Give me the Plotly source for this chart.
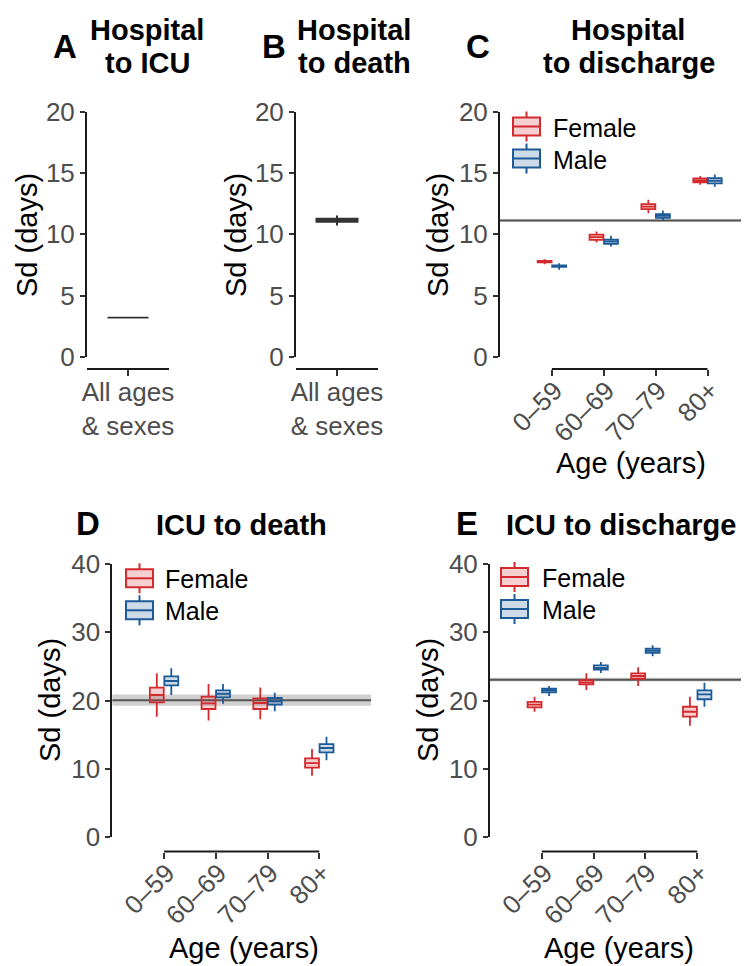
import plotly.graph_objects as go

# target picture size and page offset (default body margin of the html page)
W, H = 749, 966
OFF = 8
FW, FH = W - OFF, H - OFF

# ---------------- data ----------------
ages = ["0–59", "60–69", "70–79", "80+"]
sexes = ["Female", "Male"]
overall_label = ["All ages<br>& sexes"]

# each row: [lower whisker, q1, median, q3, upper whisker]
A_all = [[3.19, 3.19, 3.19, 3.19, 3.19]]
B_all = [[10.72, 11.02, 11.15, 11.28, 11.54]]

C_female = [[7.56, 7.72, 7.78, 7.84, 7.97],
            [9.33, 9.55, 9.77, 9.98, 10.23],
            [11.73, 12.06, 12.27, 12.47, 12.82],
            [14.05, 14.24, 14.40, 14.57, 14.76]]
C_male = [[7.10, 7.34, 7.40, 7.46, 7.64],
          [9.00, 9.22, 9.41, 9.57, 9.88],
          [11.13, 11.35, 11.51, 11.65, 11.95],
          [13.90, 14.16, 14.38, 14.60, 14.90]]

D_female = [[17.64, 19.75, 20.82, 21.90, 24.00],
            [17.10, 18.77, 19.60, 20.57, 22.43],
            [17.26, 18.77, 19.65, 20.33, 21.90],
            [9.00, 10.18, 10.86, 11.55, 12.90]]
D_male = [[20.82, 22.24, 22.87, 23.56, 24.73],
          [19.55, 20.48, 21.00, 21.50, 22.43],
          [18.43, 19.40, 19.90, 20.38, 21.16],
          [11.25, 12.43, 13.06, 13.64, 14.70]]

E_female = [[18.37, 19.00, 19.40, 19.80, 20.57],
            [21.55, 22.37, 22.68, 23.00, 23.99],
            [22.13, 23.20, 23.60, 23.99, 24.87],
            [16.30, 17.64, 18.37, 19.10, 20.57]]
E_male = [[20.67, 21.20, 21.50, 21.74, 22.13],
          [24.04, 24.53, 24.80, 25.16, 25.65],
          [26.50, 27.00, 27.30, 27.60, 28.10],
          [19.10, 20.20, 20.90, 21.50, 22.60]]

# overall reference: [low, estimate, high]
C_ref = [11.03, 11.13, 11.23]
D_ref = [19.25, 20.04, 20.90]
E_ref = [22.80, 23.06, 23.35]

y_ticks_top = [0, 5, 10, 15, 20]
y_ticks_bottom = [0, 10, 20, 30, 40]

# ---------------- style ----------------
FONT = "Liberation Sans, Arial, sans-serif"
RED = "#D42A2E"
RED_FILL = "rgba(212,42,46,0.22)"
BLUE = "#1D5A98"
BLUE_FILL = "rgba(29,90,152,0.22)"
GREY = "#333333"
GREY_FILL = "rgba(51,51,51,0.6)"
AXIS = "#1a1a1a"
TICKLAB = "#4D4D4D"
SEX_COLORS = {"Female": (RED, RED_FILL), "Male": (BLUE, BLUE_FILL)}


def px_x(p):
    return (p - OFF) / FW


def px_y(p):
    return 1 - (p - OFF) / FH


def col(rows, k):
    return [r[k] for r in rows]


fig = go.Figure()


def add_box(rows, xcats, name, line, fill, ax, width=None, lw=1.8):
    fig.add_trace(go.Box(
        x=xcats, lowerfence=col(rows, 0), q1=col(rows, 1), median=col(rows, 2),
        q3=col(rows, 3), upperfence=col(rows, 4),
        name=name, line=dict(color=line, width=lw), fillcolor=fill,
        whiskerwidth=0, boxpoints=False, hoverinfo="skip",
        xaxis="x" + ax, yaxis="y" + ax, width=width,
        offsetgroup=name, alignmentgroup="g" + ax, showlegend=False,
    ))


add_box(A_all, overall_label, "All", GREY, GREY_FILL, "", width=0.6, lw=1.6)
add_box(B_all, overall_label, "All", GREY, GREY_FILL, "2", width=0.6, lw=2)
for ax, fem, mal in [("3", C_female, C_male), ("4", D_female, D_male), ("5", E_female, E_male)]:
    add_box(fem, ages, "Female", RED, RED_FILL, ax)
    add_box(mal, ages, "Male", BLUE, BLUE_FILL, ax)

# ---------------- axes ----------------
top_y = [px_y(356.7), px_y(112)]
bot_y = [px_y(837.2), px_y(564)]
top_xpos = px_y(369)
bot_xpos = px_y(851.5)

common_x = dict(type="category", anchor="free", showline=False, showgrid=False,
                zeroline=False, ticks="outside", ticklen=6, tickwidth=1.5, automargin=False,
                tickcolor=GREY, tickfont=dict(size=26, color=TICKLAB, family=FONT))
rot_x = dict(common_x, tickangle=-45, ticklabelshift=3, ticklabelstandoff=-11)
flat_x = dict(common_x, ticklabelstandoff=-6)
common_y = dict(showline=True, linecolor=AXIS, linewidth=2, showgrid=False, automargin=False,
                zeroline=False, ticks="outside", ticklen=5, tickwidth=1.5,
                tickcolor=GREY, tickfont=dict(size=26, color=TICKLAB, family=FONT),
                ticklabelstandoff=0)

layout_axes = {
    "xaxis": dict(flat_x, domain=[px_x(87), px_x(169)], position=top_xpos, range=[-0.6, 0.6]),
    "xaxis2": dict(flat_x, domain=[px_x(296), px_x(378)], position=top_xpos, range=[-0.6, 0.6]),
    "xaxis3": dict(rot_x, domain=[px_x(500), 1.0], position=top_xpos, range=[-1.0, 3.8]),
    "xaxis4": dict(rot_x, domain=[px_x(112.3), px_x(371)], position=bot_xpos, range=[-1.0, 4.0]),
    "xaxis5": dict(rot_x, domain=[px_x(490), 1.0], position=bot_xpos, range=[-1.0, 4.0]),
    "yaxis": dict(common_y, domain=top_y, anchor="x", range=[0, 20], tickvals=y_ticks_top),
    "yaxis2": dict(common_y, domain=top_y, anchor="x2", range=[0, 20], tickvals=y_ticks_top),
    "yaxis3": dict(common_y, domain=top_y, anchor="x3", range=[0, 20], tickvals=y_ticks_top),
    "yaxis4": dict(common_y, domain=bot_y, anchor="x4", range=[0, 40], tickvals=y_ticks_bottom),
    "yaxis5": dict(common_y, domain=bot_y, anchor="x5", range=[0, 40], tickvals=y_ticks_bottom),
}

shapes = []
# capped x-axis lines
for ax, pos in [("x", top_xpos), ("x2", top_xpos)]:
    shapes.append(dict(type="line", xref=ax + " domain", yref="paper", x0=0, x1=1,
                       y0=pos, y1=pos, line=dict(color=AXIS, width=2)))
for ax, pos in [("x3", top_xpos), ("x4", bot_xpos), ("x5", bot_xpos)]:
    shapes.append(dict(type="line", xref=ax, yref="paper", x0=0, x1=len(ages) - 1,
                       y0=pos, y1=pos, line=dict(color=AXIS, width=2)))
# overall reference lines with band
for ax, ref in [("3", C_ref), ("4", D_ref), ("5", E_ref)]:
    shapes.append(dict(type="rect", xref="x" + ax + " domain", yref="y" + ax, x0=0, x1=1,
                       y0=ref[0], y1=ref[2], fillcolor="rgba(120,120,120,0.35)",
                       line=dict(width=0), layer="below"))
    shapes.append(dict(type="line", xref="x" + ax + " domain", yref="y" + ax, x0=0, x1=1,
                       y0=ref[1], y1=ref[1], line=dict(color="#555555", width=2),
                       layer="below"))

annotations = []


def ann(text, x, y, size, bold=False, color="black", angle=0, xanchor="center"):
    annotations.append(dict(text=("<b>%s</b>" % text) if bold else text,
                            x=px_x(x), y=px_y(y), xref="paper", yref="paper",
                            showarrow=False, xanchor=xanchor, yanchor="middle",
                            textangle=angle,
                            font=dict(size=size, color=color, family=FONT)))


# manual legends (box glyph + label) for panels C, D, E
def legend_block(x_icon, x_text, y_rows):
    for sex, yc in zip(sexes, y_rows):
        line, fill = SEX_COLORS[sex]
        xm = x_icon + 13.5
        shapes.append(dict(type="line", xref="paper", yref="paper",
                           x0=px_x(xm), x1=px_x(xm), y0=px_y(yc - 15), y1=px_y(yc + 15),
                           line=dict(color=line, width=2)))
        shapes.append(dict(type="rect", xref="paper", yref="paper",
                           x0=px_x(x_icon), x1=px_x(x_icon + 27),
                           y0=px_y(yc - 9), y1=px_y(yc + 9),
                           fillcolor="white", line=dict(width=0)))
        shapes.append(dict(type="rect", xref="paper", yref="paper",
                           x0=px_x(x_icon), x1=px_x(x_icon + 27),
                           y0=px_y(yc - 9), y1=px_y(yc + 9),
                           fillcolor=fill, line=dict(color=line, width=2)))
        shapes.append(dict(type="line", xref="paper", yref="paper",
                           x0=px_x(x_icon), x1=px_x(x_icon + 27), y0=px_y(yc), y1=px_y(yc),
                           line=dict(color=line, width=2)))
        ann(sex, x_text, yc + 1, 25, xanchor="left")


legend_block(513, 551, [126.5, 158.5])
legend_block(126, 163, [578.3, 610.3])
legend_block(501, 540, [577, 609])

# panel tags and titles (each title line placed on its own)
ann("A", 65, 46, 33, True)
ann("Hospital", 147, 29.5, 29, True)
ann("to ICU", 147, 63.5, 29, True)
ann("B", 274, 46, 33, True)
ann("Hospital", 354, 29.5, 29, True)
ann("to death", 354, 63.5, 29, True)
ann("C", 478, 46, 33, True)
ann("Hospital", 628, 29.5, 29, True)
ann("to discharge", 629, 63.5, 29, True)
ann("D", 88, 523, 33, True)
ann("ICU to death", 241, 524.5, 29, True)
ann("E", 467, 523, 33, True)
ann("ICU to discharge", 621, 524.5, 29, True)

# axis titles
for x, y in [(27, 235), (236, 235), (438, 235), (50, 700), (428, 700)]:
    ann("Sd (days)", x, y, 29, angle=-90)
for x, y in [(631, 463), (244, 948), (619, 948)]:
    ann("Age (years)", x, y, 29)

fig.update_layout(
    template="none",
    width=FW, height=FH, margin=dict(l=0, r=0, t=0, b=0, autoexpand=False),
    paper_bgcolor="white", plot_bgcolor="white",
    font=dict(family=FONT),
    showlegend=False,
    boxmode="group", boxgap=0.44, boxgroupgap=0.04,
    shapes=shapes, annotations=annotations,
    **layout_axes,
)

fig.write_html("out.html")
